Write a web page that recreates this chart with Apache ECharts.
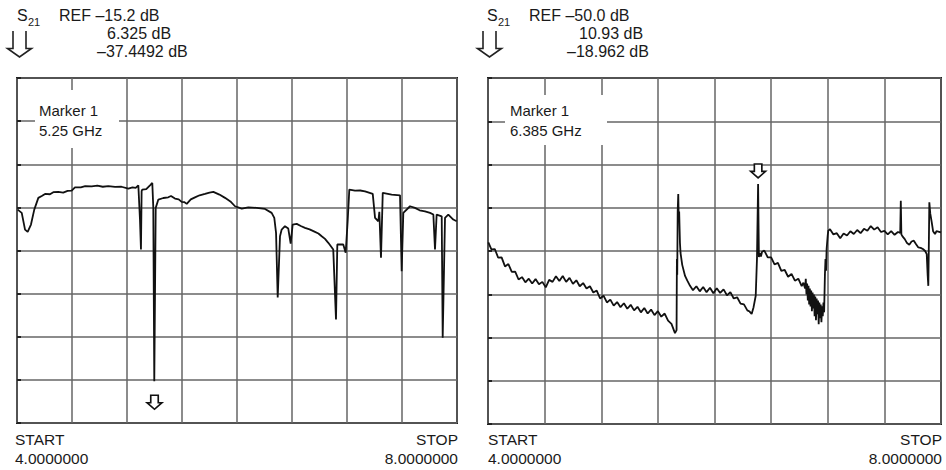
<!DOCTYPE html>
<html>
<head>
<meta charset="utf-8">
<script src="https://cdn.jsdelivr.net/npm/echarts@6/dist/echarts.min.js"></script>
<style>
html,body{margin:0;padding:0;background:#fff;}
#chart{width:946px;height:470px;}
</style>
</head>
<body>
<div id="chart"></div>
<script>
// ---- Left analyzer: S21, REF -15.2 dB, 6.325 dB/div; trace points [GHz, dB] ----
const leftRef = -15.2;
const leftScale = 6.325;
const leftMarkerFreq = 5.25;
const leftMarkerValue = -37.4492;
const leftTrace = [
  [4.006,-9.20],[4.043,-9.68],[4.073,-12.13],[4.097,-12.46],[4.127,-11.39],[4.157,-9.20],[4.194,-7.48],[4.225,-7.2],[4.255,-6.90],[4.30,-6.95],
  [4.33,-6.65],[4.375,-6.61],[4.42,-6.7],[4.46,-6.45],[4.497,-6.42],[4.527,-5.93],[4.58,-5.95],[4.62,-5.75],[4.679,-5.79],[4.73,-5.7],
  [4.78,-5.85],[4.83,-5.75],[4.891,-5.87],[4.95,-5.85],[5.012,-6.12],[5.05,-5.95],[5.079,-6.02],[5.103,-5.64],[5.118,-10.66],[5.127,-15.05],
  [5.133,-6.5],[5.139,-6.27],[5.175,-6.2],[5.209,-5.64],[5.230,-5.29],[5.239,-8.90],[5.248,-34.38],[5.261,-8.95],[5.285,-7.73],[5.33,-7.5],
  [5.375,-7.40],[5.40,-7.2],[5.436,-7.59],[5.47,-7.7],[5.497,-8.07],[5.52,-8.1],[5.543,-8.36],[5.58,-7.7],[5.618,-7.40],[5.66,-7.1],
  [5.709,-6.90],[5.75,-6.7],[5.785,-6.61],[5.84,-7.0],[5.891,-7.48],[5.94,-8.0],[5.982,-8.71],[6.043,-9.05],[6.103,-8.86],[6.18,-8.95],
  [6.255,-9.10],[6.315,-9.68],[6.339,-10.41],[6.355,-12.61],[6.370,-22.08],[6.391,-13.11],[6.406,-12.13],[6.436,-11.64],[6.466,-11.98],[6.488,-14.18],
  [6.506,-11.39],[6.543,-11.29],[6.58,-11.6],[6.618,-11.88],[6.66,-12.1],[6.709,-12.46],[6.74,-12.7],[6.770,-13.11],[6.80,-13.5],[6.830,-14.07],
  [6.875,-15.05],[6.900,-25.30],[6.912,-14.32],[6.966,-14.32],[6.988,-15.54],[7.006,-10.91],[7.021,-6.27],[7.073,-6.42],[7.12,-6.4],[7.164,-6.52],
  [7.234,-6.90],[7.255,-10.41],[7.285,-10.91],[7.294,-9.53],[7.309,-16.27],[7.325,-6.75],[7.406,-7.00],[7.482,-7.10],[7.497,-18.23],[7.512,-9.68],
  [7.573,-8.71],[7.618,-8.95],[7.66,-9.3],[7.709,-9.45],[7.755,-9.68],[7.785,-9.93],[7.800,-15.05],[7.815,-9.93],[7.861,-10.18],[7.870,-27.98],
  [7.891,-10.41],[7.921,-9.93],[7.966,-10.66],[7.997,-10.91]
];

// ---- Right analyzer: S21, REF -50.0 dB, 10.93 dB/div; trace points [GHz, dB] ----
const rightRef = -50.0;
const rightScale = 10.93;
const rightMarkerFreq = 6.385;
const rightMarkerPeak = -33.05;
const rightTrace = [
  [4.003,-47.8],[4.03,-49.6],[4.06,-49.5],[4.09,-51.7],[4.12,-51.6],[4.15,-53.9],[4.18,-53.3],[4.21,-55.3],[4.24,-55.2],[4.27,-57.2],
  [4.30,-56.6],[4.33,-57.9],[4.36,-57.0],[4.39,-58.2],[4.42,-57.1],[4.45,-58.4],[4.48,-57.8],[4.51,-59.2],[4.54,-57.3],[4.57,-57.8],
  [4.60,-56.4],[4.63,-57.6],[4.66,-56.3],[4.69,-57.8],[4.72,-56.8],[4.75,-58.3],[4.78,-57.4],[4.81,-58.9],[4.84,-58.1],[4.87,-59.5],
  [4.90,-58.9],[4.93,-60.5],[4.96,-60.0],[4.99,-62.0],[5.02,-61.3],[5.05,-63.0],[5.08,-62.3],[5.11,-63.8],[5.14,-62.9],[5.17,-64.2],
  [5.20,-63.2],[5.23,-64.6],[5.26,-63.6],[5.29,-65.0],[5.32,-64.1],[5.35,-65.5],[5.38,-64.4],[5.41,-65.8],[5.44,-64.8],[5.47,-66.2],
  [5.50,-65.2],[5.53,-66.6],[5.56,-65.8],[5.59,-67.6],[5.62,-68.4],[5.651,-70.75],[5.665,-70.0],
  [5.668,-52.0],[5.671,-56.0],[5.675,-40.0],[5.680,-35.6],[5.684,-42.0],[5.688,-40.0],[5.695,-48.0],[5.70,-50.5],[5.715,-53.5],[5.74,-56.3],
  [5.76,-57.5],[5.784,-58.8],[5.81,-59.9],[5.84,-58.9],[5.87,-60.2],[5.90,-59.1],[5.93,-60.4],[5.96,-59.3],[5.99,-60.7],[6.02,-59.4],
  [6.05,-60.6],[6.08,-59.7],[6.11,-61.2],[6.14,-60.4],[6.17,-62.0],[6.20,-61.7],[6.23,-63.3],[6.26,-63.5],[6.29,-65.0],[6.31,-65.3],
  [6.328,-65.9],[6.345,-64.2],[6.364,-61.3],[6.375,-52.0],[6.385,-33.05],[6.392,-51.5],[6.40,-50.5],[6.41,-51.4],[6.42,-50.2],[6.44,-49.9],
  [6.47,-51.6],[6.50,-51.6],[6.53,-53.4],[6.56,-53.0],[6.59,-55.0],[6.62,-54.8],[6.65,-56.5],[6.68,-55.8],[6.71,-57.5],[6.74,-57.0],
  [6.77,-58.9],[6.785,-58.0],[6.80,-59.5],[6.806,-57.0],[6.812,-61.0],
  [6.818,-58.2],[6.824,-62.5],[6.83,-58.8],[6.836,-63.5],[6.842,-59.5],[6.848,-64.0],[6.854,-60.0],[6.86,-65.2],[6.866,-60.5],[6.872,-64.5],
  [6.878,-61.0],[6.884,-66.5],[6.89,-61.5],[6.896,-67.5],[6.902,-62.0],[6.908,-66.0],[6.914,-62.5],[6.92,-68.5],[6.926,-63.0],[6.932,-67.0],
  [6.938,-63.5],[6.944,-68.0],[6.95,-64.0],[6.956,-66.5],[6.962,-63.0],[6.968,-65.5],[6.975,-56.0],[6.98,-52.0],[6.985,-55.0],[6.99,-49.5],
  [7.0,-46.0],[7.005,-44.86],[7.02,-44.5],[7.05,-45.8],[7.08,-45.5],[7.11,-46.8],[7.14,-45.6],[7.17,-46.1],[7.20,-45.0],[7.23,-45.7],
  [7.26,-44.7],[7.29,-45.5],[7.32,-44.4],[7.35,-44.9],[7.38,-43.7],[7.41,-44.6],[7.44,-44.0],[7.47,-45.2],[7.50,-44.9],[7.53,-45.8],
  [7.56,-45.0],[7.59,-45.9],[7.62,-45.2],[7.64,-45.4],[7.645,-37.3],[7.65,-45.8],[7.66,-46.3],[7.68,-47.0],[7.70,-48.0],[7.72,-48.4],
  [7.74,-47.6],[7.76,-47.4],[7.78,-48.3],[7.80,-49.1],[7.82,-49.2],[7.84,-49.5],[7.86,-50.0],[7.874,-50.8],[7.882,-56.0],[7.888,-58.8],
  [7.892,-50.0],[7.897,-37.7],[7.905,-40.5],[7.918,-42.7],[7.93,-45.0],[7.947,-45.7],[7.96,-45.0],[7.976,-45.1],[8.0,-45.3]
];

// header / annotation texts
const leftHeader = ['REF \u201315.2 dB', '6.325 dB', '\u201337.4492 dB'];
const rightHeader = ['REF \u201350.0 dB', '10.93 dB', '\u201318.962 dB'];
const leftMarkerText = ['Marker 1', '5.25 GHz'];
const rightMarkerText = ['Marker 1', '6.385 GHz'];
const startText = ['START', '4.0000000'];
const stopText = ['STOP', '8.0000000'];

// convert dB to screen divisions relative to the reference level
const toDivPoints = (pts, ref, scale) => pts.map(p => [p[0], (p[1] - ref) / scale]);

const FONT = '"Liberation Sans", Arial, Helvetica, sans-serif';
const TXT = '#1a1a1a';
const arrowPath = 'path://M4,0 L4,8 L0,8 L8,15 L16,8 L12,8 L12,0 Z';

function axisPair(gi) {
  return {
    x: {
      gridIndex: gi, type: 'value', min: 4, max: 8, interval: 0.5,
      axisLabel: {show: false}, axisTick: {show: false},
      axisLine: {show: false},
      splitLine: {show: true, lineStyle: {color: '#666', width: 1.5}}
    },
    y: {
      gridIndex: gi, type: 'value', min: -4, max: 4, interval: 1,
      axisLabel: {show: false},
      axisTick: {show: true, inside: true, length: 4, lineStyle: {color: '#222', width: 2}},
      axisLine: {show: false},
      splitLine: {show: true, lineStyle: {color: '#666', width: 1.5}}
    }
  };
}
const a0 = axisPair(0), a1 = axisPair(1);

function txt(x, y, s, opts) {
  return {
    type: 'text', x: x, y: y, z: 20,
    style: Object.assign({text: s, fill: TXT, font: '15px ' + FONT, textVerticalAlign: 'middle', textAlign: 'left'}, opts || {})
  };
}
const HF = {font: '16px ' + FONT};
function header(x0, lines, dx1, dx2) {
  return [
    txt(x0, 15.5, 'S', HF),
    txt(x0 + 11, 21.5, '21', {font: '11px ' + FONT}),
    txt(x0 + 42, 15.7, lines[0], HF),
    txt(x0 + dx1, 33, lines[1], HF),
    txt(x0 + dx2, 51.7, lines[2], HF),
    {
      type: 'polyline', z: 20,
      shape: {points: [[x0 - 4, 31], [x0 - 4, 48.5], [x0 - 9.5, 48.5], [x0 + 2.5, 57], [x0 + 14.5, 48.5], [x0 + 9, 48.5], [x0 + 9, 31]]},
      style: {stroke: '#222', fill: 'none', lineWidth: 1.6}
    }
  ];
}

const BF = {font: '15.5px ' + FONT};
const graphics = [].concat(
  header(17, leftHeader, 90, 80),
  header(487, rightHeader, 92, 80),
  [
    {type: 'rect', z: 15, shape: {x: 35, y: 90, width: 84, height: 58}, style: {fill: '#fff'}},
    {type: 'rect', z: 15, shape: {x: 505, y: 95, width: 102, height: 50}, style: {fill: '#fff'}},
    txt(39, 110.5, leftMarkerText[0]),
    txt(39, 130, leftMarkerText[1]),
    txt(510, 110.5, rightMarkerText[0]),
    txt(510, 130, rightMarkerText[1]),
    txt(15, 439, startText[0], BF),
    txt(15, 458, startText[1], BF),
    txt(458, 439, stopText[0], Object.assign({textAlign: 'right'}, BF)),
    txt(458, 458, stopText[1], Object.assign({textAlign: 'right'}, BF)),
    txt(488, 439, startText[0], BF),
    txt(488, 458, startText[1], BF),
    txt(942, 439, stopText[0], Object.assign({textAlign: 'right'}, BF)),
    txt(942, 458, stopText[1], Object.assign({textAlign: 'right'}, BF))
  ]
);

const chart = echarts.init(document.getElementById('chart'), null, {renderer: 'svg'});
chart.setOption({
  animation: false,
  backgroundColor: '#fff',
  grid: [
    {left: 17, top: 78, width: 440, height: 345, show: true, borderColor: '#1e1e1e', borderWidth: 2, backgroundColor: 'transparent'},
    {left: 488, top: 78, width: 453, height: 346, show: true, borderColor: '#1e1e1e', borderWidth: 2, backgroundColor: 'transparent'}
  ],
  xAxis: [a0.x, a1.x],
  yAxis: [a0.y, a1.y],
  graphic: graphics,
  series: [
    {
      type: 'line', xAxisIndex: 0, yAxisIndex: 0, symbol: 'none',
      lineStyle: {color: '#111', width: 1.8}, z: 5,
      data: toDivPoints(leftTrace, leftRef, leftScale),
      markPoint: {
        symbol: arrowPath, symbolSize: [15, 14], symbolOffset: [0, 0],
        itemStyle: {color: '#fff', borderColor: '#111', borderWidth: 1.6},
        label: {show: false},
        data: [{coord: [leftMarkerFreq, (leftMarkerValue - leftRef) / leftScale]}]
      }
    },
    {
      type: 'line', xAxisIndex: 1, yAxisIndex: 1, symbol: 'none',
      lineStyle: {color: '#111', width: 1.8}, z: 5,
      data: toDivPoints(rightTrace, rightRef, rightScale),
      markPoint: {
        symbol: arrowPath, symbolSize: [15, 14], symbolOffset: [0, -13],
        itemStyle: {color: '#fff', borderColor: '#111', borderWidth: 1.6},
        label: {show: false},
        data: [{coord: [rightMarkerFreq, (rightMarkerPeak - rightRef) / rightScale]}]
      }
    }
  ]
});
</script>
</body>
</html>
